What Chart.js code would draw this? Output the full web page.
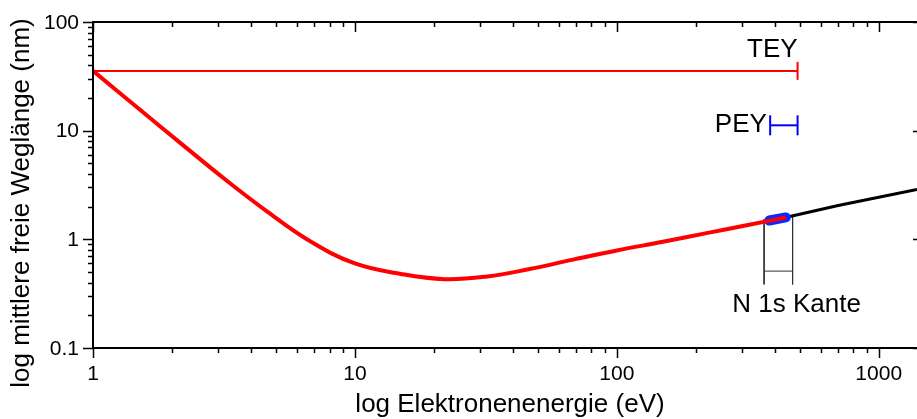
<!DOCTYPE html>
<html><head><meta charset="utf-8">
<script src="https://cdn.jsdelivr.net/npm/chart.js@4/dist/chart.umd.min.js"></script>
<style>html,body{margin:0;padding:0;background:#fff;overflow:hidden}#wrap{width:917px;height:419px;position:relative}</style>
</head><body><div id="wrap"><canvas id="c" width="917" height="419"></canvas></div>
<script>
// universal curve (red part)
const curveEnergy = [1, 1.5, 2.2, 3.2, 4.6, 6.8, 10, 15, 22, 32, 46, 68, 100, 150, 220, 320, 442];
const curveLambda = [35.5, 15.8, 7.4, 3.55, 1.82, 0.95, 0.6, 0.48, 0.43, 0.455, 0.53, 0.65, 0.79, 0.95, 1.14, 1.36, 1.59];
// black continuation
const highEnergy = [440, 700, 1000, 1400];
const highLambda = [1.59, 2.05, 2.44, 2.88];
// blue highlighted N 1s segment
const edgeEnergy = [382, 442];
const edgeLambda = [1.49, 1.59];
// information depth bars
const teyEnergy = [1, 490];
const teyLambda = [35.5, 35.5];
const peyEnergy = [385, 490];
const peyLambda = [11.2, 11.2];
// N 1s edge marker
const kanteEnergy = [365, 469];
const kanteTop = [1.53, 1.62];
const kanteBottom = 0.385;
const kanteBar = 0.51;
// ticks
const xTicks = [1, 10, 100, 1000];
const xTickLabels = ['1', '10', '100', '1000'];
const yTicks = [0.1, 1, 10, 100];
const yTickLabels = ['0.1', '1', '10', '100'];
// annotation texts
const noteTexts = ['TEY', 'PEY', 'N 1s Kante'];
const noteEnergy = [490, 374, 486];
const noteLambda = [56, 11.2, 0.252];
const noteAlign = ['right', 'right', 'center'];
const xTitle = 'log Elektronenenergie (eV)';
const yTitle = 'log mittlere freie Weglänge (nm)';

const FONT = "'Liberation Sans', Arial, sans-serif";
const pts = (xs, ys) => xs.map((x, i) => ({x, y: Array.isArray(ys) ? ys[i] : ys}));

const axesPlugin = {
  id: 'axesPlugin',
  afterDraw(chart) {
    const ctx = chart.ctx, a = chart.chartArea;
    const xs = chart.scales.x, ys = chart.scales.y;
    const rightAxis = a.right + 6; // right frame lies just beyond the visible edge
    ctx.save();
    ctx.strokeStyle = '#000';
    ctx.lineWidth = 2;
    ctx.beginPath();
    ctx.moveTo(a.left, a.top); ctx.lineTo(rightAxis, a.top);
    ctx.moveTo(a.left, a.top - 1); ctx.lineTo(a.left, a.bottom + 1);
    ctx.moveTo(a.left, a.bottom); ctx.lineTo(rightAxis, a.bottom);
    ctx.stroke();
    ctx.lineWidth = 1.5;
    ctx.beginPath();
    for (const d of xTicks) {
      for (let m = 1; m <= 9; m++) {
        const v = d * m;
        if (v > xs.max) break;
        const px = Math.round(xs.getPixelForValue(v)) + 0.5;
        const L = m === 1 ? 10 : 5;
        ctx.moveTo(px, a.bottom); ctx.lineTo(px, a.bottom + L);
        ctx.moveTo(px, a.top); ctx.lineTo(px, a.top + L);
      }
    }
    for (const d of yTicks) {
      for (let m = 1; m <= 9; m++) {
        const v = d * m;
        if (v > ys.max + 1e-9) break;
        const py = Math.round(ys.getPixelForValue(v)) + 0.5;
        const L = m === 1 ? 10 : 5;
        ctx.moveTo(a.left, py); ctx.lineTo(a.left - L, py);
        ctx.moveTo(rightAxis, py); ctx.lineTo(rightAxis - L, py);
      }
    }
    ctx.stroke();
    ctx.fillStyle = '#000';
    ctx.font = '21px ' + FONT;
    ctx.textAlign = 'center'; ctx.textBaseline = 'middle';
    xTicks.forEach((v, i) => ctx.fillText(xTickLabels[i], xs.getPixelForValue(v), a.bottom + 26));
    ctx.textAlign = 'right';
    yTicks.forEach((v, i) => ctx.fillText(yTickLabels[i], a.left - 14, ys.getPixelForValue(v) + 1));
    ctx.font = '26px ' + FONT;
    ctx.textAlign = 'center'; ctx.textBaseline = 'middle';
    ctx.fillText(xTitle, 510, 405);
    ctx.save();
    ctx.translate(22, 203);
    ctx.rotate(-Math.PI / 2);
    ctx.fillText(yTitle, 0, 0);
    ctx.restore();
    noteTexts.forEach((t, i) => {
      ctx.textAlign = noteAlign[i];
      ctx.fillText(t, xs.getPixelForValue(noteEnergy[i]), ys.getPixelForValue(noteLambda[i]));
    });
    ctx.restore();
  }
};

const base = {pointRadius: 0, fill: false, tension: 0};
new Chart(document.getElementById('c'), {
  type: 'line',
  data: {
    datasets: [
      Object.assign({}, base, {data: pts(curveEnergy, curveLambda), borderColor: '#ff0000', borderWidth: 4, tension: 0.4, order: 0}),
      Object.assign({}, base, {data: pts(edgeEnergy, edgeLambda), borderColor: '#0a28ff', borderWidth: 10, borderCapStyle: 'round', order: 1}),
      Object.assign({}, base, {data: pts(highEnergy, highLambda), borderColor: '#000', borderWidth: 3, order: 2}),
      Object.assign({}, base, {data: pts(teyEnergy, teyLambda), borderColor: '#ff0000', borderWidth: 2, order: 3,
        pointStyle: 'line', pointRadius: [0, 9], pointRotation: 90, pointBorderColor: '#ff0000', pointBorderWidth: 2}),
      Object.assign({}, base, {data: pts(peyEnergy, peyLambda), borderColor: '#0000ff', borderWidth: 2, order: 3,
        pointStyle: 'line', pointRadius: 10, pointRotation: 90, pointBorderColor: '#0000ff', pointBorderWidth: 2}),
      Object.assign({}, base, {data: [{x: kanteEnergy[0], y: kanteTop[0]}, {x: kanteEnergy[0], y: kanteBottom}], borderColor: '#333', borderWidth: 1, order: 4}),
      Object.assign({}, base, {data: [{x: kanteEnergy[1], y: kanteTop[1]}, {x: kanteEnergy[1], y: kanteBottom}], borderColor: '#333', borderWidth: 1, order: 4}),
      Object.assign({}, base, {data: pts(kanteEnergy, kanteBar), borderColor: '#333', borderWidth: 1, order: 4})
    ]
  },
  options: {
    responsive: false,
    animation: false,
    events: [],
    layout: {autoPadding: false, padding: {left: 93, top: 22, right: 0, bottom: 71}},
    scales: {
      x: {type: 'logarithmic', min: 1, max: 1400, display: false},
      y: {type: 'logarithmic', min: 0.1, max: 100, display: false}
    },
    plugins: {legend: {display: false}, tooltip: {enabled: false}}
  },
  plugins: [axesPlugin]
});
</script>
</body></html>
